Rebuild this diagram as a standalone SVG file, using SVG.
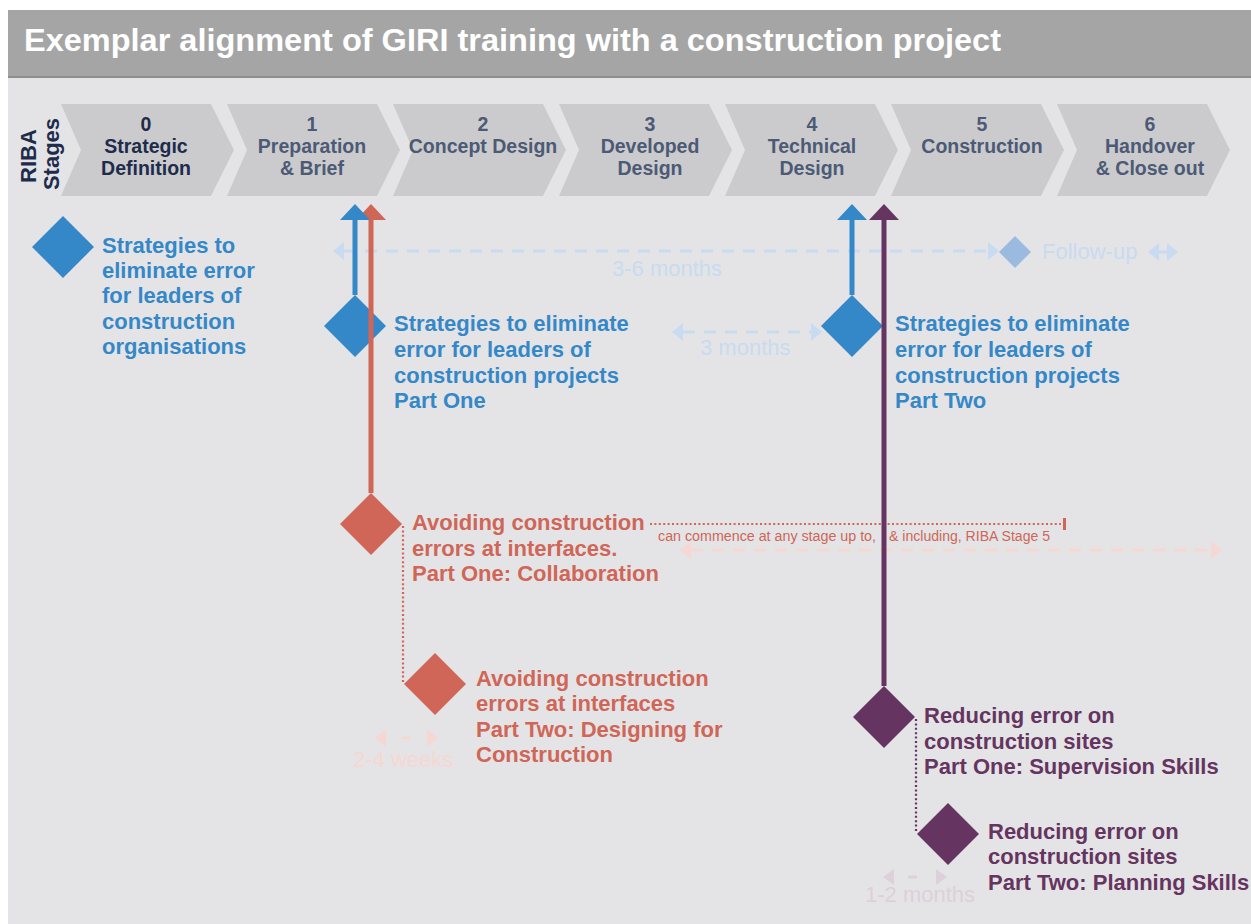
<svg xmlns="http://www.w3.org/2000/svg" width="1251" height="924" viewBox="0 0 1251 924">
<defs>
<style>
text{font-family:"Liberation Sans",Arial,sans-serif}
.title{font-size:32px;font-weight:bold;fill:#ffffff}
.stg{font-size:19.5px;font-weight:bold;fill:#4c5a76;text-anchor:middle}
.stg0{fill:#1e2c4c}
.riba{font-size:22px;font-weight:bold;fill:#1e2c4c;text-anchor:middle}
.lbl{font-size:22px;font-weight:bold}
.pale{font-size:22px}
.small{font-size:14px}
.blue{fill:#3588c8}
.red{fill:#cf6657}
.pur{fill:#653460}
.pblue{fill:#c8dbf0}
.pred{fill:#f6d7d2}
.ppur{fill:#ddd0db}
.chev{fill:#cbcbcd}
.vline{fill:none;stroke-width:5}
.dash{fill:none;stroke-width:3;stroke-dasharray:12 9}
.dot{fill:none;stroke-width:2.2;stroke-dasharray:2 2.4}
</style>
<path id="chevron" d="M0,104 H150 L173,150 L150,196 H0 L20,150 Z"/>
<path id="dia" d="M0,-31 L31,0 L0,31 L-31,0 Z"/>
<marker id="aBlue" markerUnits="userSpaceOnUse" markerWidth="32" markerHeight="32" refX="0" refY="15" orient="auto" overflow="visible"><path d="M0,0 L16,15 L0,30 Z" fill="#3588c8"/></marker>
<marker id="aRed" markerUnits="userSpaceOnUse" markerWidth="32" markerHeight="32" refX="0" refY="15" orient="auto" overflow="visible"><path d="M0,0 L16,15 L0,30 Z" fill="#cf6657"/></marker>
<marker id="aPur" markerUnits="userSpaceOnUse" markerWidth="32" markerHeight="32" refX="0" refY="15" orient="auto" overflow="visible"><path d="M0,0 L16,15 L0,30 Z" fill="#653460"/></marker>
<marker id="sBlue" markerUnits="userSpaceOnUse" markerWidth="20" markerHeight="20" refX="0" refY="9" orient="auto-start-reverse" overflow="visible"><path d="M0,0 L11,9 L0,18 Z" fill="#c8dbf0"/></marker>
<marker id="sRed" markerUnits="userSpaceOnUse" markerWidth="20" markerHeight="20" refX="0" refY="9" orient="auto-start-reverse" overflow="visible"><path d="M0,0 L11,9 L0,18 Z" fill="#f6d7d2"/></marker>
<marker id="sPur" markerUnits="userSpaceOnUse" markerWidth="20" markerHeight="20" refX="0" refY="8" orient="auto-start-reverse" overflow="visible"><path d="M0,0 L11,8 L0,16 Z" fill="#ddd0db"/></marker>
</defs>

<rect x="0" y="0" width="1251" height="924" fill="#ffffff"/>
<g id="title-bar">
<rect x="8" y="10" width="1243" height="67" fill="#a5a5a5"/>
<rect x="8" y="76" width="1243" height="2" fill="#8e8e8e"/>
<text class="title" x="24" y="51" textLength="977" lengthAdjust="spacingAndGlyphs">Exemplar alignment of GIRI training with a construction project</text>
</g>
<rect x="8" y="78" width="1243" height="846" fill="#e4e4e6"/>

<g id="riba-stages">
<text class="riba" transform="translate(36,156) rotate(-90)">RIBA</text>
<text class="riba" transform="translate(59,154) rotate(-90)">Stages</text>
</g>
<g id="stage0"><use href="#chevron" x="61" class="chev"/><text class="stg stg0" x="146" y="131">0</text><text class="stg stg0" x="146" y="153">Strategic</text><text class="stg stg0" x="146" y="175">Definition</text></g>
<g id="stage1"><use href="#chevron" x="227" class="chev"/><text class="stg" x="312" y="131">1</text><text class="stg" x="312" y="153">Preparation</text><text class="stg" x="312" y="175">&amp; Brief</text></g>
<g id="stage2"><use href="#chevron" x="393" class="chev"/><text class="stg" x="483" y="131">2</text><text class="stg" x="483" y="153">Concept Design</text></g>
<g id="stage3"><use href="#chevron" x="559" class="chev"/><text class="stg" x="650" y="131">3</text><text class="stg" x="650" y="153">Developed</text><text class="stg" x="650" y="175">Design</text></g>
<g id="stage4"><use href="#chevron" x="725" class="chev"/><text class="stg" x="812" y="131">4</text><text class="stg" x="812" y="153">Technical</text><text class="stg" x="812" y="175">Design</text></g>
<g id="stage5"><use href="#chevron" x="891" class="chev"/><text class="stg" x="982" y="131">5</text><text class="stg" x="982" y="153">Construction</text></g>
<g id="stage6"><use href="#chevron" x="1057" class="chev"/><text class="stg" x="1150" y="131">6</text><text class="stg" x="1150" y="153">Handover</text><text class="stg" x="1150" y="175">&amp; Close out</text></g>

<g id="node-organisations">
<use href="#dia" x="63" y="247" class="blue"/>
<text class="lbl blue" x="102"><tspan x="102" y="253">Strategies to</tspan><tspan x="102" y="278">eliminate error</tspan><tspan x="102" y="303">for leaders of</tspan><tspan x="102" y="329">construction</tspan><tspan x="102" y="354">organisations</tspan></text>
</g>
<g id="node-projects-part-one">
<use href="#dia" x="355" y="326" class="blue"/>
<text class="lbl blue"><tspan x="394" y="331">Strategies to eliminate</tspan><tspan x="394" y="357">error for leaders of</tspan><tspan x="394" y="383">construction projects</tspan><tspan x="394" y="408">Part One</tspan></text>
</g>
<g id="node-projects-part-two">
<use href="#dia" x="852" y="326" class="blue"/>
<text class="lbl blue"><tspan x="895" y="331">Strategies to eliminate</tspan><tspan x="895" y="357">error for leaders of</tspan><tspan x="895" y="383">construction projects</tspan><tspan x="895" y="408">Part Two</tspan></text>
</g>
<g id="node-follow-up">
<path d="M1015,236 L1031,252 L1015,268 L999,252 Z" fill="#9bbae0"/>
<text class="pale pblue" x="1042" y="259">Follow-up</text>
</g>
<g id="node-interfaces-part-one">
<use href="#dia" x="371" y="524" class="red"/>
<text class="lbl red"><tspan x="412" y="530">Avoiding construction</tspan><tspan x="412" y="556">errors at interfaces.</tspan><tspan x="412" y="581">Part One: Collaboration</tspan></text>
</g>
<g id="node-interfaces-part-two">
<use href="#dia" x="435" y="684" class="red"/>
<text class="lbl red"><tspan x="476" y="686">Avoiding construction</tspan><tspan x="476" y="711">errors at interfaces</tspan><tspan x="476" y="737">Part Two: Designing for</tspan><tspan x="476" y="762">Construction</tspan></text>
</g>
<g id="node-sites-part-one">
<use href="#dia" x="884" y="717" class="pur"/>
<text class="lbl pur"><tspan x="924" y="723">Reducing error on</tspan><tspan x="924" y="749">construction sites</tspan><tspan x="924" y="774">Part One: Supervision Skills</tspan></text>
</g>
<g id="node-sites-part-two">
<use href="#dia" x="948" y="834" class="pur"/>
<text class="lbl pur"><tspan x="988" y="839">Reducing error on</tspan><tspan x="988" y="864">construction sites</tspan><tspan x="988" y="890">Part Two: Planning Skills</tspan></text>
</g>

<g id="connectors">
<path class="dash" d="M344,251 H988" stroke="#c8dbf0" marker-start="url(#sBlue)" marker-end="url(#sBlue)"/>
<text class="pale pblue" x="612" y="276">3-6 months</text>
<path class="dash" d="M683,332 H811" stroke="#c8dbf0" marker-start="url(#sBlue)" marker-end="url(#sBlue)"/>
<text class="pale pblue" x="700" y="355">3 months</text>
<path d="M1159,252 H1167" stroke="#c8dbf0" stroke-width="3" marker-start="url(#sBlue)" marker-end="url(#sBlue)"/>
<path class="dash" d="M691,550 H1211" stroke="#f6d7d2" marker-start="url(#sRed)" marker-end="url(#sRed)"/>
<path d="M386,738 H427" fill="none" stroke="#f6d7d2" stroke-width="3" stroke-dasharray="0 16 8 40" marker-start="url(#sRed)" marker-end="url(#sRed)"/>
<text class="pale pred" x="353" y="767">2-4 weeks</text>
<path d="M894,877 H936" fill="none" stroke="#ddd0db" stroke-width="3" stroke-dasharray="0 14 9 40" marker-start="url(#sPur)" marker-end="url(#sPur)"/>
<text class="pale ppur" x="865" y="902" font-size="21.5">1-2 months</text>
<path class="dot" d="M650,524 H1061" stroke="#cf6657"/>
<path d="M1064.5,518 V530" stroke="#cf6657" stroke-width="3"/>
<text class="small red"><tspan x="658" y="541" textLength="218" lengthAdjust="spacingAndGlyphs">can commence at any stage up to,</tspan><tspan x="889" y="541" textLength="161" lengthAdjust="spacingAndGlyphs">&amp; including, RIBA Stage 5</tspan></text>
<path class="dot" d="M403,526 V683" stroke="#cf6657"/>
<path class="dot" d="M916,719 V833" stroke="#653460"/>
<path class="vline" d="M371,493 V220" stroke="#cf6657" marker-end="url(#aRed)"/>
<path class="vline" d="M884,686 V220" stroke="#653460" marker-end="url(#aPur)"/>
<path class="vline" d="M355,295 V220" stroke="#3588c8" marker-end="url(#aBlue)"/>
<path class="vline" d="M852,295 V220" stroke="#3588c8" marker-end="url(#aBlue)"/>
</g>
</svg>
